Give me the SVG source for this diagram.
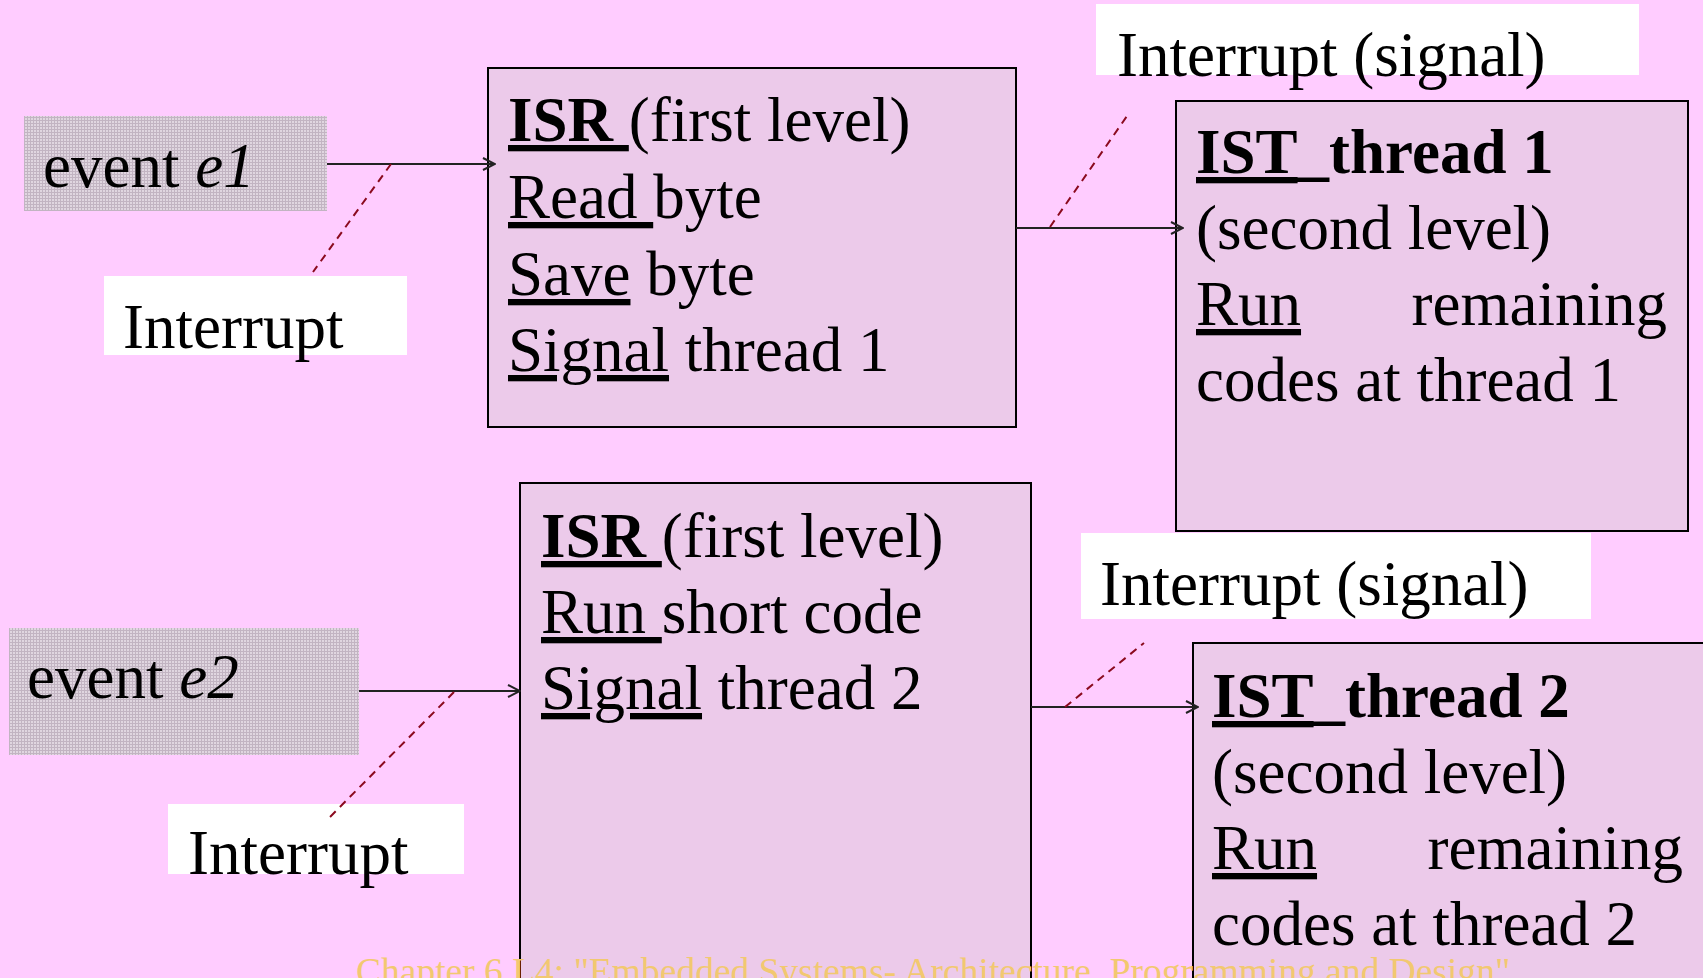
<svg xmlns="http://www.w3.org/2000/svg" width="1703" height="978" viewBox="0 0 1703 978">
<style>
text{font-family:"Liberation Serif","Times New Roman",serif;font-size:63px;fill:#000}
.b{font-weight:bold}
.u{text-decoration:underline}
.i{font-style:italic}
.box{fill:#ECCAEA;stroke:#000;stroke-width:2}
.lbl{fill:#FFFFFF}
.ev{fill:url(#chk)}
.arr{stroke:#222;stroke-width:2;fill:none;marker-end:url(#ah)}
.dsh{stroke:#8B0A1E;stroke-width:2;fill:none;stroke-dasharray:8,6}
.foot{font-size:37.5px;fill:#F2C870}
</style>
<defs>
<pattern id="chk" width="3" height="3" patternUnits="userSpaceOnUse">
<rect width="3" height="3" fill="#C2B4C2"/>
<rect x="1" y="1" width="2" height="2" fill="#E0D6E0"/>
</pattern>
<marker id="ah" viewBox="0 0 14 14" refX="13" refY="7" markerWidth="14" markerHeight="14" markerUnits="userSpaceOnUse" orient="auto">
<path d="M1,1 L13,7 L1,13" fill="none" stroke="#222" stroke-width="2"/>
</marker>
</defs>
<rect width="1703" height="978" fill="#FFCCFF"/>

<g id="event-e1">
<rect class="ev" x="24" y="116" width="303" height="95"/>
<text x="43" y="187">event <tspan class="i">e1</tspan></text>
</g>
<g id="label-interrupt-1">
<rect class="lbl" x="104" y="276" width="303" height="79"/>
<text x="123" y="348">Interrupt</text>
</g>
<g id="isr-1">
<rect class="box" x="488" y="68" width="528" height="359"/>
<text x="508" y="141"><tspan class="u b">ISR </tspan>(first level)</text>
<text x="508" y="218"><tspan class="u">Read </tspan>byte</text>
<text x="508" y="295"><tspan class="u">Save</tspan> byte</text>
<text x="508" y="371"><tspan class="u">Signal</tspan> thread 1</text>
</g>
<g id="label-signal-1">
<rect class="lbl" x="1096" y="4" width="543" height="71"/>
<text x="1117" y="76">Interrupt (signal)</text>
</g>
<g id="ist-1">
<rect class="box" x="1176" y="101" width="512" height="430"/>
<text x="1196" y="173" class="b"><tspan class="u">IST</tspan>_thread 1</text>
<text x="1196" y="249">(second level)</text>
<text x="1196" y="325"><tspan class="u">Run</tspan></text>
<text x="1667" y="325" text-anchor="end">remaining</text>
<text x="1196" y="401">codes at thread 1</text>
</g>

<g id="event-e2">
<rect class="ev" x="9" y="628" width="350" height="127"/>
<text x="27" y="698">event <tspan class="i">e2</tspan></text>
</g>
<g id="label-interrupt-2">
<rect class="lbl" x="168" y="804" width="296" height="70"/>
<text x="188" y="874">Interrupt</text>
</g>
<g id="isr-2">
<rect class="box" x="520" y="483" width="511" height="510"/>
<text x="541" y="557"><tspan class="u b">ISR </tspan>(first level)</text>
<text x="541" y="633"><tspan class="u">Run </tspan>short code</text>
<text x="541" y="709"><tspan class="u">Signal</tspan> thread 2</text>
</g>
<g id="label-signal-2">
<rect class="lbl" x="1081" y="533" width="510" height="86"/>
<text x="1100" y="605">Interrupt (signal)</text>
</g>
<g id="ist-2">
<rect class="box" x="1193" y="643" width="530" height="350"/>
<text x="1212" y="717" class="b"><tspan class="u">IST</tspan>_thread 2</text>
<text x="1212" y="793">(second level)</text>
<text x="1212" y="869"><tspan class="u">Run</tspan></text>
<text x="1683" y="869" text-anchor="end">remaining</text>
<text x="1212" y="945">codes at thread 2</text>
</g>

<g id="connectors">
<line class="arr" x1="327" y1="164" x2="495" y2="164"/>
<line class="dsh" x1="391" y1="164" x2="313" y2="272"/>
<line class="arr" x1="1016" y1="228" x2="1183" y2="228"/>
<line class="dsh" x1="1050" y1="227" x2="1127" y2="116"/>
<line class="arr" x1="359" y1="691" x2="520" y2="691"/>
<line class="dsh" x1="454" y1="692" x2="328" y2="819"/>
<line class="arr" x1="1031" y1="707" x2="1198" y2="707"/>
<line class="dsh" x1="1065" y1="707" x2="1144" y2="643"/>
</g>

<text class="foot" x="356" y="984">Chapter 6 L4: "Embedded Systems- Architecture, Programming and Design"</text>
</svg>
